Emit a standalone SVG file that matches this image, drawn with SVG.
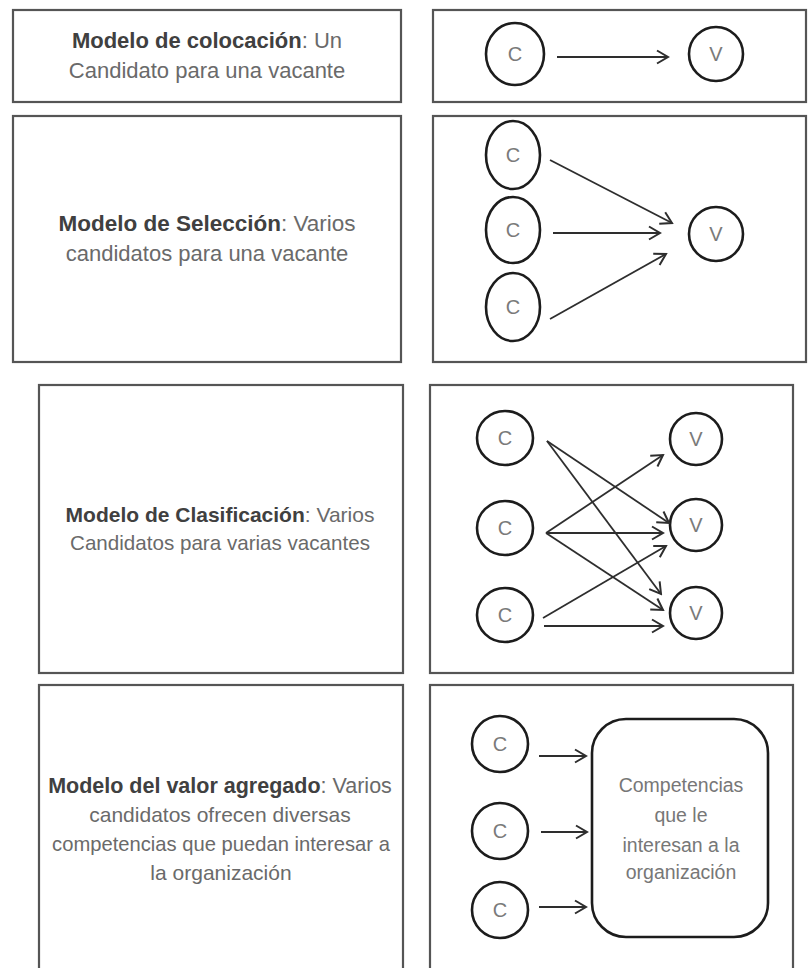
<svg xmlns="http://www.w3.org/2000/svg" width="808" height="968" viewBox="0 0 808 968">
  <style>
    .frame { fill: #ffffff; stroke: #555555; stroke-width: 2.2; }
    .lbl { font-family: "Liberation Sans", Arial, sans-serif; text-anchor: middle; fill: #6a6a6a; }
    .lbl .b { font-weight: bold; fill: #404040; }
    .node { fill: #ffffff; stroke: #1c1c1c; stroke-width: 2.6; }
    .ntxt { font-family: "Liberation Sans", Arial, sans-serif; font-size: 20px; fill: #7a7a7a; text-anchor: middle; }
    .btxt { font-family: "Liberation Sans", Arial, sans-serif; font-size: 19.5px; fill: #777777; text-anchor: middle; }
    .edge { fill: none; stroke: #2e2e2e; stroke-width: 1.8; marker-end: url(#arrow); }
  </style>
  <defs>
    <marker id="arrow" markerUnits="userSpaceOnUse" markerWidth="14" markerHeight="16" viewBox="0 0 14 16" refX="12" refY="8" orient="auto">
      <path d="M1,1.5 L12,8 L1,14.5" fill="none" stroke="#2e2e2e" stroke-width="2" stroke-linejoin="miter"/>
    </marker>
  </defs>
  <rect width="808" height="968" fill="#ffffff"/>

  <!-- Row 1: colocación -->
  <g id="desc-colocacion">
    <rect class="frame" x="13" y="10" width="388" height="92"/>
    <text class="lbl" font-size="22" x="207" y="48"><tspan class="b">Modelo de colocación</tspan>: Un</text>
    <text class="lbl" font-size="22" x="207" y="78">Candidato para una vacante</text>
  </g>
  <g id="diag-colocacion">
    <rect class="frame" x="433" y="10" width="373" height="92"/>
  </g>
  <g id="r1-c">
    <ellipse class="node" cx="515" cy="54" rx="29" ry="31"/>
    <text class="ntxt" x="515" y="61">C</text>
  </g>
  <g id="r1-v">
    <ellipse class="node" cx="716" cy="54" rx="27" ry="27"/>
    <text class="ntxt" x="716" y="61">V</text>
  </g>

  <!-- Row 2: selección -->
  <g id="desc-seleccion">
    <rect class="frame" x="13" y="116" width="388" height="246"/>
    <text class="lbl" font-size="22.5" x="207" y="231"><tspan class="b">Modelo de Selección</tspan>: Varios</text>
    <text class="lbl" font-size="22" x="207" y="261">candidatos para una vacante</text>
  </g>
  <g id="diag-seleccion">
    <rect class="frame" x="433" y="116" width="373" height="246"/>
  </g>
  <g id="r2-c1">
    <ellipse class="node" cx="513" cy="155" rx="27" ry="34"/>
    <text class="ntxt" x="513" y="162">C</text>
  </g>
  <g id="r2-c2">
    <ellipse class="node" cx="513" cy="230" rx="27" ry="33"/>
    <text class="ntxt" x="513" y="237">C</text>
  </g>
  <g id="r2-c3">
    <ellipse class="node" cx="513" cy="307" rx="27" ry="34"/>
    <text class="ntxt" x="513" y="314">C</text>
  </g>
  <g id="r2-v">
    <ellipse class="node" cx="716" cy="234" rx="27" ry="27"/>
    <text class="ntxt" x="716" y="241">V</text>
  </g>

  <!-- Row 3: clasificación -->
  <g id="desc-clasificacion">
    <rect class="frame" x="39" y="385" width="364" height="288"/>
    <text class="lbl" font-size="21" x="220" y="522"><tspan class="b">Modelo de Clasificación</tspan>: Varios</text>
    <text class="lbl" font-size="20.6" x="220" y="550">Candidatos para varias vacantes</text>
  </g>
  <g id="diag-clasificacion">
    <rect class="frame" x="430" y="385" width="363" height="288"/>
  </g>
  <g id="r3-c1">
    <ellipse class="node" cx="505" cy="438" rx="28" ry="27"/>
    <text class="ntxt" x="505" y="445">C</text>
  </g>
  <g id="r3-c2">
    <ellipse class="node" cx="505" cy="528" rx="28" ry="27"/>
    <text class="ntxt" x="505" y="535">C</text>
  </g>
  <g id="r3-c3">
    <ellipse class="node" cx="505" cy="615" rx="28" ry="27"/>
    <text class="ntxt" x="505" y="622">C</text>
  </g>
  <g id="r3-v1">
    <ellipse class="node" cx="696" cy="439" rx="26" ry="26"/>
    <text class="ntxt" x="696" y="446">V</text>
  </g>
  <g id="r3-v2">
    <ellipse class="node" cx="696" cy="525" rx="26" ry="26"/>
    <text class="ntxt" x="696" y="532">V</text>
  </g>
  <g id="r3-v3">
    <ellipse class="node" cx="696" cy="613" rx="26" ry="26"/>
    <text class="ntxt" x="696" y="620">V</text>
  </g>

  <!-- Row 4: valor agregado -->
  <g id="desc-valor">
    <rect class="frame" x="39" y="685" width="364" height="300"/>
    <text class="lbl" font-size="21.5" x="220" y="793"><tspan class="b">Modelo del valor agregado</tspan>: Varios</text>
    <text class="lbl" font-size="21" x="220" y="822">candidatos ofrecen diversas</text>
    <text class="lbl" font-size="20.2" x="221" y="851">competencias que puedan interesar a</text>
    <text class="lbl" font-size="21" x="221" y="880">la organización</text>
  </g>
  <g id="diag-valor">
    <rect class="frame" x="430" y="685" width="363" height="300"/>
  </g>
  <g id="r4-c1">
    <ellipse class="node" cx="500" cy="744" rx="28" ry="28"/>
    <text class="ntxt" x="500" y="751">C</text>
  </g>
  <g id="r4-c2">
    <ellipse class="node" cx="500" cy="831" rx="28" ry="28"/>
    <text class="ntxt" x="500" y="838">C</text>
  </g>
  <g id="r4-c3">
    <ellipse class="node" cx="500" cy="910" rx="28" ry="28"/>
    <text class="ntxt" x="500" y="917">C</text>
  </g>
  <g id="r4-competencias">
    <rect x="592" y="719" width="176" height="218" rx="34" ry="34" fill="#ffffff" stroke="#1c1c1c" stroke-width="2.6"/>
    <text class="btxt" x="681" y="792">Competencias</text>
    <text class="btxt" x="681" y="822">que le</text>
    <text class="btxt" x="681" y="852">interesan a la</text>
    <text class="btxt" x="681" y="879">organización</text>
  </g>

  <!-- Connectors -->
  <g id="connectors">
    <line class="edge" x1="557" y1="57" x2="668" y2="57"/>

    <line class="edge" x1="550" y1="160" x2="672" y2="223"/>
    <line class="edge" x1="553" y1="233" x2="660" y2="233"/>
    <line class="edge" x1="550" y1="319" x2="666" y2="254"/>

    <line class="edge" x1="547" y1="441" x2="669" y2="523"/>
    <line class="edge" x1="547" y1="441" x2="661" y2="594"/>
    <line class="edge" x1="546" y1="533" x2="663" y2="455"/>
    <line class="edge" x1="546" y1="533" x2="663" y2="533"/>
    <line class="edge" x1="546" y1="533" x2="663" y2="610"/>
    <line class="edge" x1="543" y1="618" x2="666" y2="546"/>
    <line class="edge" x1="544" y1="626" x2="663" y2="626"/>

    <line class="edge" x1="539" y1="756" x2="586" y2="756"/>
    <line class="edge" x1="541" y1="832" x2="587" y2="832"/>
    <line class="edge" x1="539" y1="907" x2="586" y2="907"/>
  </g>
</svg>
